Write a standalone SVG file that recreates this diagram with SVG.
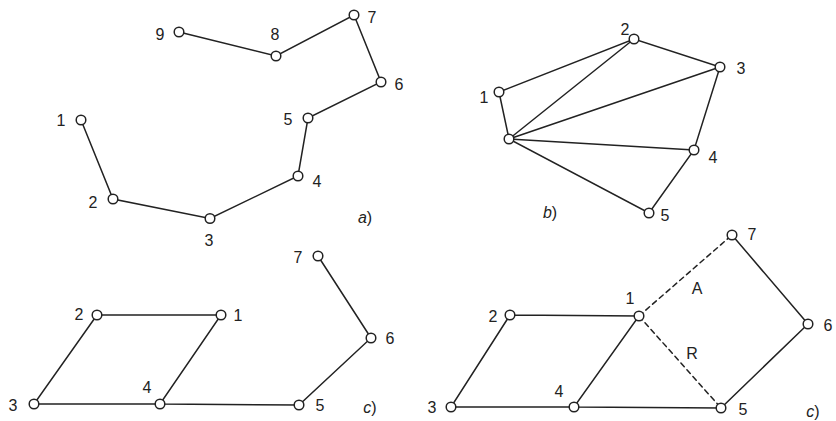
<svg xmlns="http://www.w3.org/2000/svg" width="836" height="421" viewBox="0 0 836 421">
<style>
.e{stroke:#222;stroke-width:1.5;fill:none;stroke-linecap:round}
.d{stroke-dasharray:5 4}
.n circle{fill:#fff;stroke:#222;stroke-width:1.5}
text{font-family:"Liberation Sans",Arial,sans-serif;font-size:16px;fill:#222;text-anchor:middle}
.it{font-style:italic}
</style>
<rect width="836" height="421" fill="#fff"/>
<g id="connectors">
<path class="e" d="M81 120L113 199L210 218.5L298 176L308 118L381 82L354 15L276 56L179 32"/>
<path class="e" d="M499 92L634 39L720 67L694 150L649 213L509 139L499 92M509 139L634 39M509 139L720 67M509 139L694 150"/>
<path class="e" d="M97 315L221 315L160 404L34 404L97 315M160 404L299 405L371 338L318 256"/>
<path class="e" d="M510 315L639 316L574 407L451 407L510 315M574 407L721 408L808 324L732 235"/>
<path class="e d" d="M639 316L732 235M639 316L721 408"/>
</g>
<g id="a1" class="n"><circle cx="81" cy="120" r="4.8"/><text x="61" y="126">1</text></g>
<g id="a2" class="n"><circle cx="113" cy="199" r="4.8"/><text x="93" y="208">2</text></g>
<g id="a3" class="n"><circle cx="210" cy="218.5" r="4.8"/><text x="209" y="246">3</text></g>
<g id="a4" class="n"><circle cx="298" cy="176" r="4.8"/><text x="317" y="187">4</text></g>
<g id="a5" class="n"><circle cx="308" cy="118" r="4.8"/><text x="288" y="125">5</text></g>
<g id="a6" class="n"><circle cx="381" cy="82" r="4.8"/><text x="399" y="90">6</text></g>
<g id="a7" class="n"><circle cx="354" cy="15" r="4.8"/><text x="372" y="23">7</text></g>
<g id="a8" class="n"><circle cx="276" cy="56" r="4.8"/><text x="275" y="40">8</text></g>
<g id="a9" class="n"><circle cx="179" cy="32" r="4.8"/><text x="160" y="40">9</text></g>
<g id="b0" class="n"><circle cx="509" cy="139" r="4.8"/></g>
<g id="b1" class="n"><circle cx="499" cy="92" r="4.8"/><text x="484" y="103">1</text></g>
<g id="b2" class="n"><circle cx="634" cy="39" r="4.8"/><text x="625" y="35">2</text></g>
<g id="b3" class="n"><circle cx="720" cy="67" r="4.8"/><text x="741" y="74">3</text></g>
<g id="b4" class="n"><circle cx="694" cy="150" r="4.8"/><text x="713" y="163">4</text></g>
<g id="b5" class="n"><circle cx="649" cy="213" r="4.8"/><text x="665" y="221">5</text></g>
<g id="c1" class="n"><circle cx="221" cy="315" r="4.8"/><text x="238" y="321">1</text></g>
<g id="c2" class="n"><circle cx="97" cy="315" r="4.8"/><text x="79" y="320">2</text></g>
<g id="c3" class="n"><circle cx="34" cy="404" r="4.8"/><text x="13" y="411">3</text></g>
<g id="c4" class="n"><circle cx="160" cy="404" r="4.8"/><text x="147" y="393">4</text></g>
<g id="c5" class="n"><circle cx="299" cy="405" r="4.8"/><text x="320" y="411">5</text></g>
<g id="c6" class="n"><circle cx="371" cy="338" r="4.8"/><text x="390" y="344">6</text></g>
<g id="c7" class="n"><circle cx="318" cy="256" r="4.8"/><text x="298" y="263">7</text></g>
<g id="d1" class="n"><circle cx="639" cy="316" r="4.8"/><text x="630" y="304">1</text></g>
<g id="d2" class="n"><circle cx="510" cy="315" r="4.8"/><text x="493" y="322">2</text></g>
<g id="d3" class="n"><circle cx="451" cy="407" r="4.8"/><text x="432" y="413">3</text></g>
<g id="d4" class="n"><circle cx="574" cy="407" r="4.8"/><text x="559" y="397">4</text></g>
<g id="d5" class="n"><circle cx="721" cy="408" r="4.8"/><text x="743" y="415">5</text></g>
<g id="d6" class="n"><circle cx="808" cy="324" r="4.8"/><text x="828" y="331">6</text></g>
<g id="d7" class="n"><circle cx="732" cy="235" r="4.8"/><text x="752" y="240">7</text></g>
<g id="labels">
<text x="697" y="294">A</text>
<text x="692" y="359">R</text>
<text x="365" y="223"><tspan class="it">a</tspan>)</text>
<text x="550" y="218"><tspan class="it">b</tspan>)</text>
<text x="370" y="413"><tspan class="it">c</tspan>)</text>
<text x="813" y="417"><tspan class="it">c</tspan>)</text>
</g>
</svg>
